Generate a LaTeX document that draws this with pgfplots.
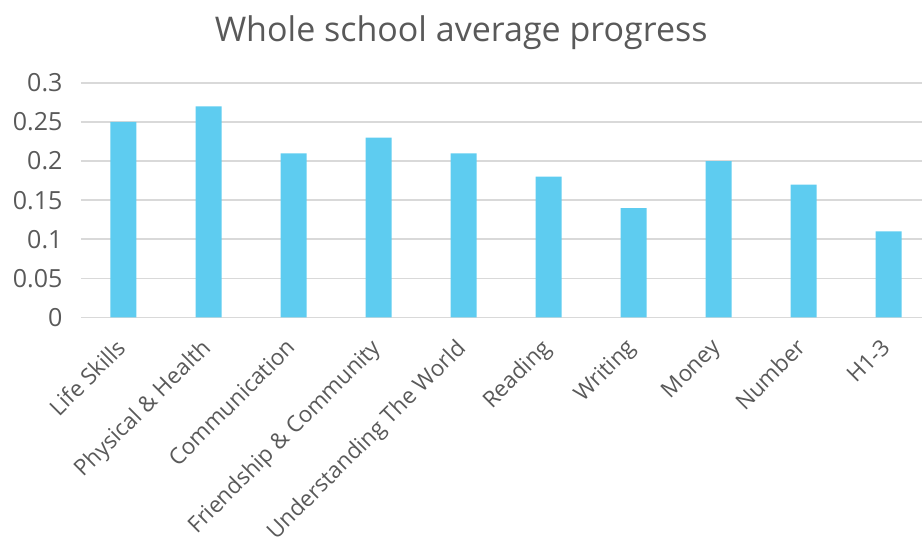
\documentclass[border=0pt]{standalone}
\usepackage{fontspec}
\setmainfont{Open Sans}
\usepackage{pgfplots}
\pgfplotsset{compat=1.18}
\definecolor{barblue}{HTML}{5ECCF0}
\definecolor{gridgray}{HTML}{D9D9D9}
\definecolor{textgray}{HTML}{595959}
\begin{document}
\begin{tikzpicture}
\begin{axis}[
  at={(0,0)}, anchor=south west,
  scale only axis, width=841pt, height=234.6pt,
  xmin=-0.5, xmax=9.394, ymin=0, ymax=0.3,
  axis line style={draw=none},
  major tick length=0pt,
  ymajorgrids, grid style={color=gridgray, line width=1.6pt},
  ytick={0,0.05,0.1,0.15,0.2,0.25,0.3},
  yticklabels={0,0.05,0.1,0.15,0.2,0.25,0.3},
  yticklabel style={font=\fontsize{25}{27}\selectfont, text=textgray, anchor=east, xshift=-15pt},
  xtick={0,1,2,3,4,5,6,7,8,9},
  xticklabels={Life Skills,Physical \& Health,Communication,Friendship \& Community,Understanding The World,Reading,Writing,Money,Number,H1-3},
  xticklabel style={font=\fontsize{22.5}{24}\selectfont, text=textgray, rotate=45, anchor=north east, xshift=-16.7pt, yshift=-4.4pt},
  /pgf/number format/assume math mode=true,
  title={Whole school average progress},
  title style={font=\fontsize{34}{38}\selectfont, text=textgray, at={(rel axis cs:0.452,1.19)}, anchor=center},
  clip=false,
]
\addplot[ybar, bar width=26pt, fill=barblue, draw=none] coordinates {
  (0,0.25) (1,0.27) (2,0.21) (3,0.23) (4,0.21) (5,0.18) (6,0.14) (7,0.20) (8,0.17) (9,0.11)
};
\end{axis}
\pgfresetboundingbox
\useasboundingbox (-81pt,-220pt) rectangle (841pt,317.5pt);
\end{tikzpicture}
\end{document}
